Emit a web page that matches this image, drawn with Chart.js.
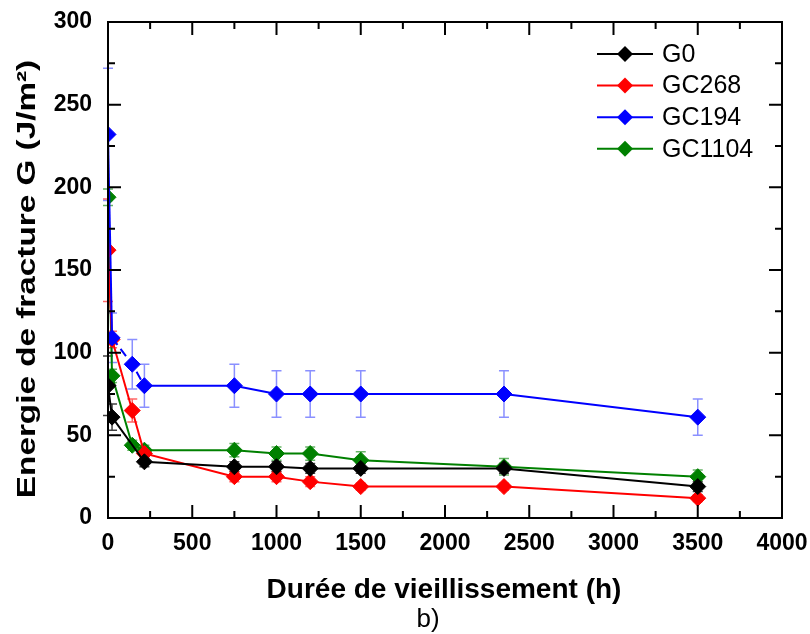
<!DOCTYPE html>
<html>
<head>
<meta charset="utf-8">
<script src="https://cdn.jsdelivr.net/npm/chart.js@4.4.1/dist/chart.umd.min.js"></script>
<style>
    html, body { margin: 0; padding: 0; background: #fff; }
    #wrap { width: 810px; height: 634px; }
</style>
</head>
<body>
<div id="wrap"><canvas id="fracture-chart" width="810" height="634"></canvas></div>
<script>
// Durée de vieillissement (h) and G (J/m²) per material
const xG0 = [0, 24, 216, 750, 1000, 1200, 1500, 2350, 3500];
const yG0 = [80, 61, 34, 31, 31, 30, 30, 30, 19];
const eG0 = [18, 8, 3, 3, 3, 3, 3, 3, 3];

const xGC268 = [0, 24, 144, 216, 750, 1000, 1200, 1500, 2350, 3500];
const yGC268 = [162, 108, 65, 39, 25, 25, 22, 19, 19, 12];
const eGC268 = [31, 5, 7, 3, 3, 3, 3, 2, 2, 2];

const xGC194 = [0, 24, 144, 216, 750, 1000, 1200, 1500, 2350, 3500];
const yGC194 = [232, 109, 93, 80, 80, 75, 75, 75, 75, 61];
const eGC194 = [40, 15, 15, 13, 13, 14, 14, 14, 14, 11];

const xGC1104 = [0, 24, 144, 216, 750, 1000, 1200, 1500, 2350, 3500];
const yGC1104 = [194, 86, 44, 41, 41, 39, 39, 35, 31, 25];
const eGC1104 = [5, 4, 3, 3, 4, 4, 4, 5, 5, 4];

const seriesLabels = ['G0', 'GC268', 'GC194', 'GC1104'];
const xTicks = [0, 500, 1000, 1500, 2000, 2500, 3000, 3500, 4000];
const yTicks = [0, 50, 100, 150, 200, 250, 300];

const FONT = '"Liberation Sans", Arial, sans-serif';

function toPoints(xs, ys) {
    return xs.map((x, i) => ({ x: x, y: ys[i] }));
}

function makeDataset(label, xs, ys, errs, color, errColor, order) {
    return {
        label: label,
        data: toPoints(xs, ys),
        errors: errs,
        errColor: errColor,
        order: order,
        borderColor: color,
        backgroundColor: color,
        borderWidth: 2,
        pointStyle: 'rectRot',
        pointRadius: 8,
        pointHoverRadius: 8,
        pointBorderWidth: 1,
        tension: 0,
        clip: { left: 0, top: false, right: false, bottom: false }
    };
}

function diamond(ctx, x, y, r, color) {
    ctx.beginPath();
    ctx.moveTo(x, y - r);
    ctx.lineTo(x + r, y);
    ctx.lineTo(x, y + r);
    ctx.lineTo(x - r, y);
    ctx.closePath();
    ctx.fillStyle = color;
    ctx.fill();
}

// fixed axis boxes, the frame sits where the original one is
function fixBox(s, size) {
    if (s.isHorizontal()) s.height = size; else s.width = size;
    s.paddingTop = 0;
    s.paddingBottom = 0;
    s.paddingLeft = 0;
    s.paddingRight = 0;
}

// error bars, inward ticks, frame, legend and titles
const decorPlugin = {
    id: 'decor',
    beforeDatasetsDraw(chart) {
        const ctx = chart.ctx;
        const xs = chart.scales.x, ys = chart.scales.y;
        ctx.save();
        chart.data.datasets.forEach(ds => {
            ctx.strokeStyle = ds.errColor;
            ctx.lineWidth = 1.5;
            ds.data.forEach((p, i) => {
                const e = ds.errors[i];
                const px = xs.getPixelForValue(p.x);
                const top = ys.getPixelForValue(p.y + e);
                const bot = ys.getPixelForValue(p.y - e);
                ctx.beginPath();
                ctx.moveTo(px, top); ctx.lineTo(px, bot);
                ctx.moveTo(px - 5, top); ctx.lineTo(px + 5, top);
                ctx.moveTo(px - 5, bot); ctx.lineTo(px + 5, bot);
                ctx.stroke();
            });
        });
        ctx.restore();
    },
    afterDraw(chart) {
        const ctx = chart.ctx;
        const a = chart.chartArea;
        const xs = chart.scales.x, ys = chart.scales.y;
        ctx.save();

        // frame
        ctx.strokeStyle = '#000';
        ctx.lineWidth = 2;
        ctx.strokeRect(a.left, a.top, a.right - a.left, a.bottom - a.top);

        // inward ticks on all four sides
        ctx.beginPath();
        for (let v = 0; v <= 4000; v += 250) {
            const len = v % 500 === 0 ? 13 : 7;
            const px = xs.getPixelForValue(v);
            ctx.moveTo(px, a.bottom); ctx.lineTo(px, a.bottom - len);
            ctx.moveTo(px, a.top); ctx.lineTo(px, a.top + len);
        }
        for (let v = 0; v <= 300; v += 25) {
            const len = v % 50 === 0 ? 13 : 7;
            const py = ys.getPixelForValue(v);
            ctx.moveTo(a.left, py); ctx.lineTo(a.left + len, py);
            ctx.moveTo(a.right, py); ctx.lineTo(a.right - len, py);
        }
        ctx.stroke();

        // legend
        chart.data.datasets.forEach((ds, i) => {
            const y = 54 + i * 31.6;
            ctx.strokeStyle = ds.borderColor;
            ctx.lineWidth = 2;
            ctx.beginPath();
            ctx.moveTo(597, y); ctx.lineTo(653, y);
            ctx.stroke();
            diamond(ctx, 625, y, 8, ds.borderColor);
            ctx.fillStyle = '#000';
            ctx.font = '25px ' + FONT;
            ctx.textAlign = 'left';
            ctx.textBaseline = 'middle';
            ctx.fillText(ds.label, 662, y + 1);
        });

        // x title and panel label
        ctx.fillStyle = '#000';
        ctx.textAlign = 'center';
        ctx.textBaseline = 'alphabetic';
        ctx.font = 'bold 28px ' + FONT;
        ctx.fillText('Durée de vieillissement (h)', 444, 598);
        ctx.font = '26px ' + FONT;
        ctx.fillText('b)', 428, 627);

        // y title (stretched like the original)
        ctx.translate(35, 279);
        ctx.rotate(-Math.PI / 2);
        ctx.scale(1.28, 1);
        ctx.font = 'bold 26px ' + FONT;
        ctx.fillText('Energie de fracture G (J/m²)', 0, 0);
        ctx.restore();
    }
};

new Chart(document.getElementById('fracture-chart'), {
    type: 'line',
    data: {
        datasets: [
            makeDataset(seriesLabels[0], xG0, yG0, eG0, '#000000', 'rgba(0, 0, 0, 0.75)', 1),
            makeDataset(seriesLabels[1], xGC268, yGC268, eGC268, '#ff0000', 'rgba(255, 0, 0, 0.6)', 2),
            makeDataset(seriesLabels[2], xGC194, yGC194, eGC194, '#0000ff', 'rgba(60, 70, 255, 0.6)', 0),
            makeDataset(seriesLabels[3], xGC1104, yGC1104, eGC1104, '#008000', 'rgba(0, 128, 0, 0.6)', 3)
        ]
    },
    options: {
        responsive: false,
        animation: false,
        devicePixelRatio: 1,
        layout: { padding: { top: 22, right: 28, left: 0, bottom: 0 } },
        datasets: {
            line: {
                segment: {
                    borderDash: ctx => (ctx.datasetIndex === 2 && (ctx.p0DataIndex === 1 || ctx.p0DataIndex === 2)) ? [9, 5] : undefined
                }
            }
        },
        scales: {
            x: {
                type: 'linear',
                min: 0,
                max: 4000,
                afterFit: s => fixBox(s, 116),
                afterBuildTicks: s => { s.ticks = xTicks.map(v => ({ value: v })); },
                ticks: { color: '#000', padding: 12, maxRotation: 0, callback: v => String(v), font: { family: FONT, size: 23, weight: 'bold' } },
                grid: { display: false, drawTicks: false },
                border: { display: true, color: '#000', width: 2 }
            },
            y: {
                min: 0,
                max: 300,
                afterFit: s => fixBox(s, 108),
                afterBuildTicks: s => { s.ticks = yTicks.map(v => ({ value: v })); },
                ticks: { color: '#000', padding: 16, callback: v => String(v), font: { family: FONT, size: 23, weight: 'bold' } },
                grid: { display: false, drawTicks: false },
                border: { display: true, color: '#000', width: 2 }
            }
        },
        plugins: {
            legend: { display: false },
            tooltip: { enabled: false }
        }
    },
    plugins: [decorPlugin]
});
</script>
</body>
</html>
